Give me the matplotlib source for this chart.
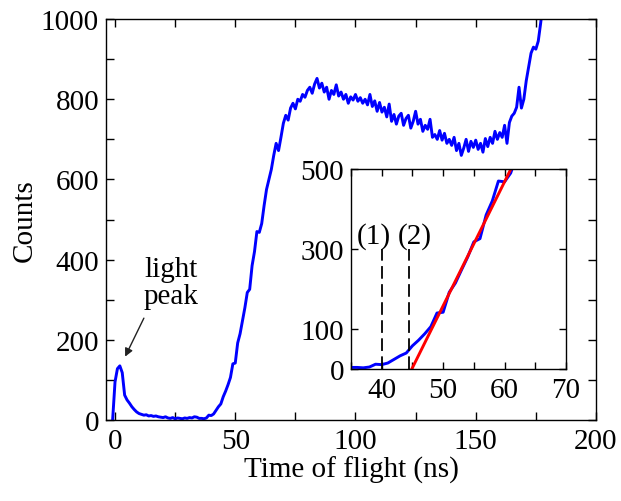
import numpy as np
import matplotlib
matplotlib.use("Agg")
import matplotlib.pyplot as plt
from matplotlib.ticker import MultipleLocator, FuncFormatter, FixedLocator

plt.rcParams['font.family'] = ['Liberation Serif', 'DejaVu Serif']
plt.rcParams['font.size'] = 21

# time of flight in ns, 1 ns bins
tof = np.arange(-1, 180)
counts = [
    0, 95, 128, 135, 118, 62, 50, 42, 33, 26,            # -1..8
    20, 16, 14, 12, 13, 10, 11, 9, 10, 8,                # 9..18
    7, 6, 8, 5, 4, 6, 3, 5, 4, 3,                        # 19..28
    5, 4, 6, 5, 8, 7, 4, 4, 3, 5,                        # 29..38
    12, 11, 15, 24, 33, 40, 58, 72, 88, 106,             # 39..48
    140, 142, 192, 215, 248, 280, 318, 326, 385, 420,    # 49..58
    470, 468, 490, 535, 575, 600, 625, 660, 690, 672,    # 59..68
    705, 740, 760, 748, 778, 790, 776, 800, 795, 812,    # 69..78
    805, 822, 830, 815, 838, 852, 828, 840, 818, 830,    # 79..88
    800, 822, 812, 836, 808, 818, 800, 812, 790, 806,    # 89..98
    798, 812, 795, 804, 790, 800, 786, 812, 782, 796,    # 99..108
    770, 792, 768, 780, 756, 788, 745, 762, 738, 758,    # 109..118
    765, 735, 752, 760, 728, 745, 770, 738, 750, 720,    # 119..128
    735, 725, 750, 705, 712, 700, 722, 698, 715, 690,    # 129..138
    700, 685, 705, 672, 690, 660, 678, 700, 670, 695,    # 139..148
    680, 698, 675, 690, 668, 702, 682, 705, 690, 720,    # 149..158
    700, 717, 705, 735, 690, 742, 758, 765, 780, 830,    # 159..168
    778, 800, 846, 880, 915, 930, 925, 945, 990, 1040,   # 169..178
    1080,                                                 # 179
]

# linear fit of the rising edge (inset)
fit_t0 = 44.9      # ns, zero crossing
fit_slope = 31.0   # counts per ns
fit_range = [44.9, 62.0]

# threshold markers
marker_t = [40.0, 44.5]
marker_labels = ['(1)', '(2)']
marker_label_t = [38.7, 45.4]

fig = plt.figure(figsize=(6.21, 5.02), dpi=100)
ax = fig.add_axes([0.1707, 0.1614, 0.789, 0.7986])

ax.plot(tof, counts, color='#0000ff', lw=2.1)
ax.set_xlim(-3.75, 200)
ax.set_ylim(0, 1000)
ax.xaxis.set_major_locator(MultipleLocator(25))
ax.yaxis.set_major_locator(MultipleLocator(100))
ax.xaxis.set_major_formatter(FuncFormatter(lambda v, p: f"{v:.0f}" if v % 50 == 0 else ""))
ax.yaxis.set_major_formatter(FuncFormatter(lambda v, p: f"{v:.0f}" if v % 200 == 0 else ""))
ax.tick_params(direction='in', length=6, width=1, top=True, right=True, labelsize=21)
ax.tick_params(axis='x', pad=6)
ax.tick_params(axis='y', pad=5)
ax.set_xlabel("Time of flight (ns)", fontsize=21, labelpad=1)
ax.set_ylabel("Counts", fontsize=21, labelpad=2)
for s in ax.spines.values():
    s.set_linewidth(1)

ax.text(23.1, 344, "light\npeak", ha='center', va='center', fontsize=21, linespacing=1.05)
ax.annotate('', xy=(4.2, 158), xytext=(12, 254),
            arrowprops=dict(arrowstyle='-|>', color='#222222', lw=1, mutation_scale=12,
                            shrinkA=0, shrinkB=0))

# inset
axi = fig.add_axes([0.5652, 0.2629, 0.3462, 0.3984])
axi.plot(tof, counts, color='#0000ff', lw=2.1)
ft = np.array(fit_range)
axi.plot(ft, fit_slope * (ft - fit_t0), color='#ff0000', lw=2.1)
for mt in marker_t:
    axi.plot([mt, mt], [0, 300], color='k', lw=1.3, dashes=(7, 3))
for lt, lab in zip(marker_label_t, marker_labels):
    axi.text(lt, 300, lab, ha='center', va='bottom', fontsize=21)
axi.set_xlim(35, 70)
axi.set_ylim(0, 500)
axi.xaxis.set_major_locator(MultipleLocator(5))
axi.xaxis.set_major_formatter(FuncFormatter(lambda v, p: f"{v:.0f}" if v % 10 == 0 else ""))
axi.yaxis.set_major_locator(FixedLocator([0, 100, 300, 500]))
axi.tick_params(direction='in', length=5, width=1, top=True, right=True, labelsize=21)
axi.tick_params(axis='x', pad=6)
axi.tick_params(axis='y', pad=5)
for s in axi.spines.values():
    s.set_linewidth(1)

fig.savefig("out.png", dpi=100)
